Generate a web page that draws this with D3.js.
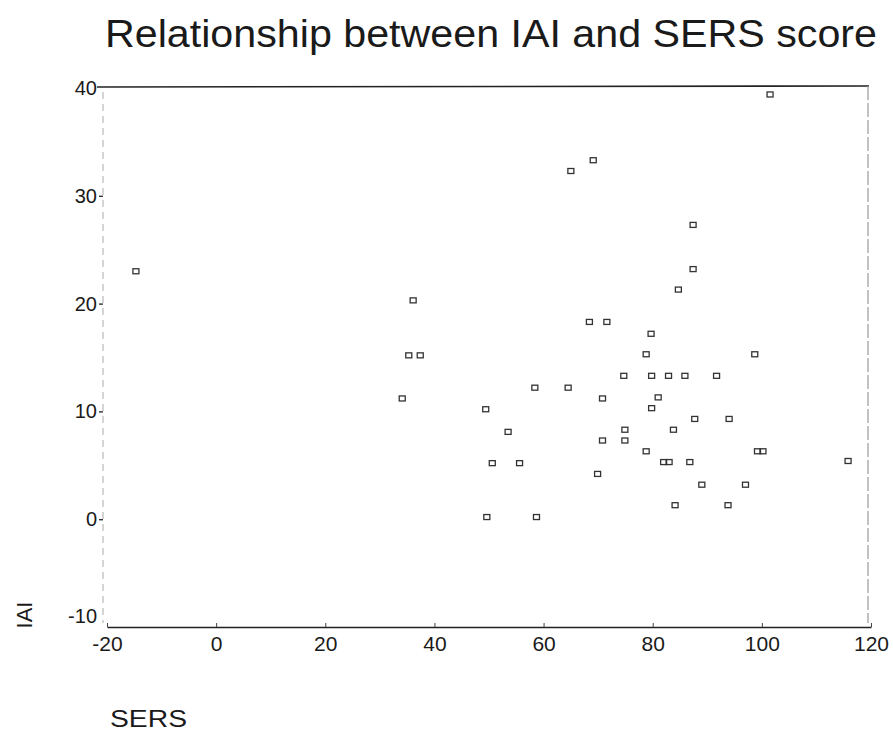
<!DOCTYPE html>
<html>
<head>
<meta charset="utf-8">
<script src="https://cdn.jsdelivr.net/npm/d3@7"></script>
<style>
  body { margin: 0; background: #fff; }
  svg text { font-family: "Liberation Sans", Arial, sans-serif; fill: #1a1a1a; }
</style>
</head>
<body>
<svg id="chart" width="893" height="731"></svg>
<script>
// data
const sers = [-14.7, 65.0, 69.1, 36.1, 35.3, 37.4, 68.4, 71.6, 79.7, 78.8,
  101.5, 87.4, 87.4, 84.7, 98.7, 74.7, 79.8, 82.9, 85.9, 91.7,
  34.1, 58.4, 64.5, 70.8, 81.0, 79.8, 49.4, 87.7, 94.0, 53.5,
  83.8, 74.9, 74.9, 70.8, 78.8, 50.6, 55.6, 82.0, 83.0, 86.8,
  99.2, 100.2, 115.8, 69.9, 89.0, 97.0, 84.1, 93.8, 49.6, 58.7];
const iai = [23.0, 32.3, 33.3, 20.3, 15.2, 15.2, 18.3, 18.3, 17.2, 15.3,
  39.4, 27.3, 23.2, 21.3, 15.3, 13.3, 13.3, 13.3, 13.3, 13.3,
  11.2, 12.2, 12.2, 11.2, 11.3, 10.3, 10.2, 9.3, 9.3, 8.1,
  8.3, 8.3, 7.3, 7.3, 6.3, 5.2, 5.2, 5.3, 5.3, 5.3,
  6.3, 6.3, 5.4, 4.2, 3.2, 3.2, 1.3, 1.3, 0.2, 0.2];
const xTicks = [-20, 0, 20, 40, 60, 80, 100, 120];
const yTicks = [-10, 0, 10, 20, 30, 40];

const svg = d3.select("#chart");
const mLeft = 107, mRight = 871, mTop = 88, mBottom = 627;

const x = d3.scaleLinear().domain([-20, 120]).range([mLeft, mRight]);
const y = d3.scaleLinear().domain([-10, 40]).range([mBottom, mTop]);

// title
svg.append("text")
  .attr("x", 105).attr("y", 47)
  .attr("textLength", 772).attr("lengthAdjust", "spacingAndGlyphs")
  .style("font-size", "38px")
  .text("Relationship between IAI and SERS score");

// frame: solid top, faint dashed left/right
svg.append("line")
  .attr("x1", 97).attr("x2", mRight - 2)
  .attr("y1", mTop - 1).attr("y2", mTop - 2)
  .attr("stroke", "#222").attr("stroke-width", 1.6);
svg.append("line")
  .attr("x1", 103).attr("x2", 103)
  .attr("y1", mTop + 4).attr("y2", mBottom - 4)
  .attr("stroke", "#aaa").attr("stroke-width", 1).attr("stroke-dasharray", "7,5");
svg.append("line")
  .attr("x1", mRight - 3).attr("x2", mRight - 3)
  .attr("y1", mTop - 2).attr("y2", mBottom - 4)
  .attr("stroke", "#999").attr("stroke-width", 1.2).attr("stroke-dasharray", "14,3");

// x axis
const xAxis = svg.append("g")
  .attr("transform", `translate(0,${mBottom})`)
  .call(d3.axisBottom(x).tickValues(xTicks).tickSizeInner(-4).tickSizeOuter(0)
    .tickPadding(9).tickFormat(d => String(d)));
xAxis.select(".domain").attr("stroke", "#222").attr("stroke-width", 1.6);
xAxis.selectAll(".tick line").attr("stroke", "#444");
xAxis.selectAll("text").style("font-size", "21px").attr("fill", "#1a1a1a");

// y axis: labels with a small dash tick
const yAxis = svg.append("g")
  .attr("transform", "translate(103,0)")
  .call(d3.axisLeft(y).tickValues(yTicks).tickSizeInner(4).tickSizeOuter(0)
    .tickPadding(2).tickFormat(d => String(d)));
yAxis.select(".domain").remove();
yAxis.selectAll(".tick line").attr("stroke", "#333").attr("stroke-width", 1.4)
  .filter(d => d === 40 || d === -10).remove();
yAxis.selectAll("text").style("font-size", "20px").attr("fill", "#1a1a1a");
// bottom label sits above the x axis line in the original
yAxis.selectAll(".tick text").filter(d => d === -10).attr("dy", "-0.25em");
yAxis.selectAll(".tick text").filter(d => d === 40).attr("x", -6);

// axis titles
svg.append("text")
  .attr("transform", "translate(32,615) rotate(-90)")
  .attr("text-anchor", "middle")
  .style("font-size", "22px")
  .text("IAI");
svg.append("text")
  .attr("x", 110).attr("y", 727)
  .attr("textLength", 77).attr("lengthAdjust", "spacingAndGlyphs")
  .style("font-size", "23px")
  .text("SERS");

// points: small open squares
const pts = sers.map((d, i) => ({ s: d, v: iai[i] }));
svg.append("g").selectAll("rect")
  .data(pts)
  .join("rect")
  .attr("x", d => x(d.s) - 3)
  .attr("y", d => y(d.v) - 2.5)
  .attr("width", 6).attr("height", 5)
  .attr("fill", "none")
  .attr("stroke", "#333")
  .attr("stroke-width", 1.3);
</script>
</body>
</html>
